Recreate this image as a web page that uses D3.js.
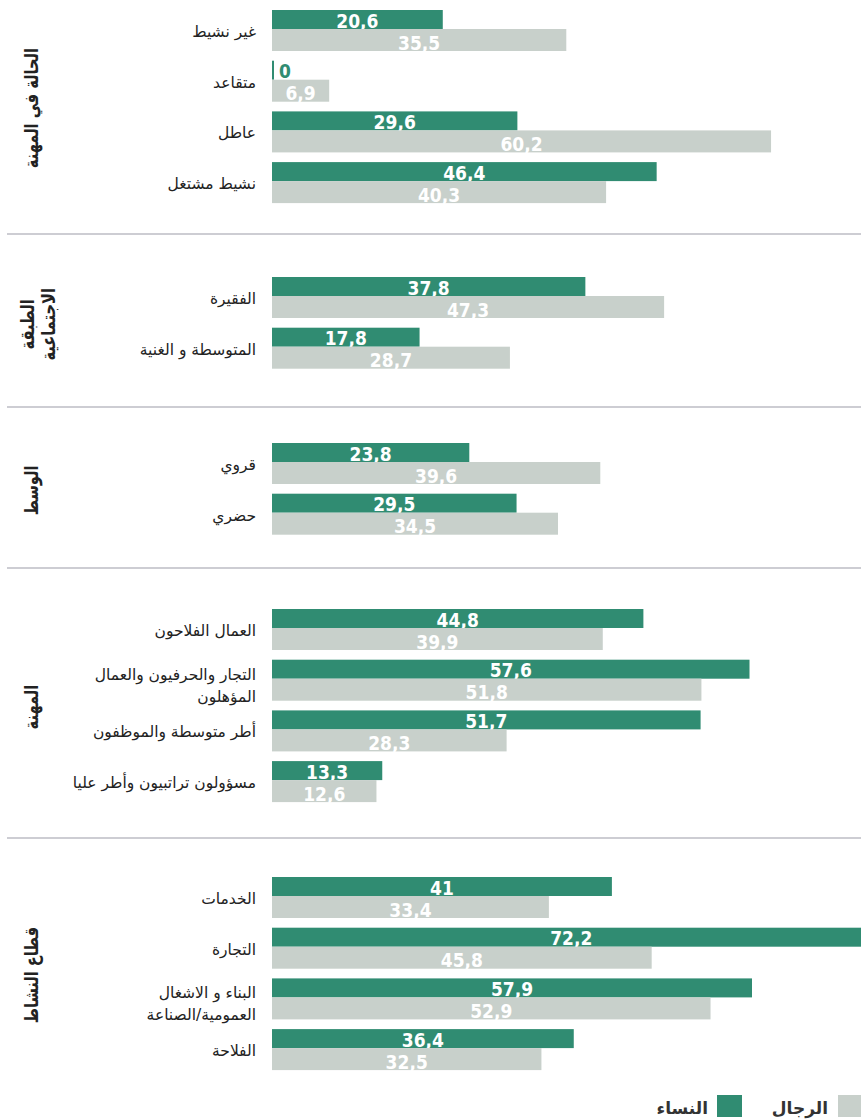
<!DOCTYPE html>
<html lang="ar">
<head>
<meta charset="utf-8">
<script src="https://cdn.jsdelivr.net/npm/d3@7/dist/d3.min.js"></script>
<style>
  html, body { margin: 0; padding: 0; background: #fff; }
  svg { display: block; }
</style>
</head>
<body>
<svg id="chart" width="861" height="1120"></svg>
<script>
// ---------- DATA ----------
const groupTitles = ["الحالة في المهنة", "الطبقة\nالاجتماعية", "الوسط", "المهنة", "قطاع النشاط"];

const categories1 = ["غير نشيط", "متقاعد", "عاطل", "نشيط مشتغل"];
const women1 = [20.6, 0, 29.6, 46.4];
const men1 = [35.5, 6.9, 60.2, 40.3];

const categories2 = ["الفقيرة", "المتوسطة و الغنية"];
const women2 = [37.8, 17.8];
const men2 = [47.3, 28.7];

const categories3 = ["قروي", "حضري"];
const women3 = [23.8, 29.5];
const men3 = [39.6, 34.5];

const categories4 = ["العمال الفلاحون", "التجار والحرفيون والعمال\nالمؤهلون", "أطر متوسطة والموظفون", "مسؤولون تراتبيون وأطر عليا"];
const women4 = [44.8, 57.6, 51.7, 13.3];
const men4 = [39.9, 51.8, 28.3, 12.6];

const categories5 = ["الخدمات", "التجارة", "البناء و الاشغال\nالعمومية/الصناعة", "الفلاحة"];
const women5 = [41, 72.2, 57.9, 36.4];
const men5 = [33.4, 45.8, 52.9, 32.5];

const seriesNames = ["النساء", "الرجال"];

// ---------- LAYOUT ----------
const groups = [
  {cats: categories1, w: women1, m: men1},
  {cats: categories2, w: women2, m: men2},
  {cats: categories3, w: women3, m: men3},
  {cats: categories4, w: women4, m: men4},
  {cats: categories5, w: women5, m: men5}
];
const groupTops = [10, 277, 443, 609, 877];
const separators = [234, 407, 568, 838];
const pitch = 50.7;
const pairH = 40;
const greenH = 19;

const GREEN = "#308c72";
const GRAY = "#c8d0cb";

const svg = d3.select("#chart");
const x = d3.scaleLinear().domain([0, 72.2]).range([272, 272 + 72.2 * 8.29]);

const labelFont = "'DejaVu Sans Condensed', 'DejaVu Sans', sans-serif";
const arFont = "'DejaVu Sans', 'Noto Sans', sans-serif";

// separators
svg.selectAll("line.sep").data(separators).join("line")
  .attr("class", "sep")
  .attr("x1", 7).attr("x2", 861)
  .attr("y1", d => d).attr("y2", d => d)
  .attr("stroke", "#bdbdc4").attr("stroke-width", 1.5);

groups.forEach((g, gi) => {
  const n = g.cats.length;
  const top = groupTops[gi];
  const y = d3.scaleBand()
    .domain(g.cats)
    .range([top, top + n * pairH + (n - 1) * (pitch - pairH)])
    .paddingInner((pitch - pairH) / pitch)
    .paddingOuter(0);

  const gg = svg.append("g");
  const rows = g.cats.map((c, i) => ({cat: c, w: g.w[i], m: g.m[i]}));

  rows.forEach(r => {
    const y0 = y(r.cat);
    // women bar
    const ww = r.w === 0 ? 2 : x(r.w) - x(0);
    gg.append("rect").attr("x", x(0)).attr("y", y0).attr("width", ww).attr("height", greenH).attr("fill", GREEN);
    const wl = gg.append("text")
      .attr("font-family", labelFont).attr("font-weight", "bold").attr("font-size", 19)
      .attr("y", y0 + greenH - 1.5)
      .text(d3.format(".1~f")(r.w).replace(".", ","));
    if (r.w === 0) {
      wl.attr("x", x(0) + 7).attr("text-anchor", "start").attr("fill", GREEN);
    } else {
      wl.attr("x", (x(0) + x(r.w)) / 2).attr("text-anchor", "middle").attr("fill", "#fff");
    }
    // men bar
    const my = y0 + greenH;
    const mh = y.bandwidth() - greenH + 1;
    gg.append("rect").attr("x", x(0)).attr("y", my).attr("width", x(r.m) - x(0)).attr("height", mh).attr("fill", GRAY);
    gg.append("text")
      .attr("font-family", labelFont).attr("font-weight", "bold").attr("font-size", 19)
      .attr("x", (x(0) + x(r.m)) / 2).attr("text-anchor", "middle").attr("fill", "#fff")
      .attr("y", my + mh - 1.5)
      .text(d3.format(".1~f")(r.m).replace(".", ","));

    // category label
    const lines = r.cat.split("\n");
    const cy = y0 + y.bandwidth() / 2;
    const t = gg.append("text")
      .attr("font-family", arFont).attr("font-size", 15.5).attr("fill", "#222")
      .attr("text-anchor", "end");
    if (lines.length === 1) {
      t.append("tspan").attr("x", 256).attr("y", cy + 2).attr("dominant-baseline", "central").text(lines[0]);
    } else {
      lines.forEach((l, li) => {
        t.append("tspan").attr("x", 256).attr("y", cy - 5 + li * 22).attr("dominant-baseline", "central").text(l);
      });
    }
  });

  // group title (rotated, slightly condensed)
  const gTop = y.range()[0], gBot = y.range()[1];
  const gcy = (gTop + gBot) / 2 + 2;
  const tl = groupTitles[gi].split("\n");
  const tt = svg.append("text")
    .attr("font-family", arFont).attr("font-weight", "bold").attr("font-size", 19).attr("fill", "#222")
    .attr("text-anchor", "middle")
    .attr("transform", `translate(${tl.length === 1 ? 31 : 27},${gcy}) rotate(-90) scale(0.77,1)`);
  tl.forEach((l, li) => {
    tt.append("tspan").attr("x", 0).attr("y", li * 21).attr("dominant-baseline", "central").text(l);
  });
});

// ---------- LEGEND ----------
const legend = [
  {name: seriesNames[0], color: GREEN, sx: 717, tx: 708},
  {name: seriesNames[1], color: GRAY, sx: 838, tx: 828}
];
const lg = svg.append("g");
legend.forEach(l => {
  lg.append("rect").attr("x", l.sx).attr("y", 1095).attr("width", 25).attr("height", 22).attr("fill", l.color);
  lg.append("text").attr("x", l.tx).attr("y", 1108).attr("dominant-baseline", "central")
    .attr("text-anchor", "end").attr("font-family", arFont).attr("font-weight", "bold")
    .attr("font-size", 17).attr("fill", "#333").text(l.name);
});
</script>
</body>
</html>
